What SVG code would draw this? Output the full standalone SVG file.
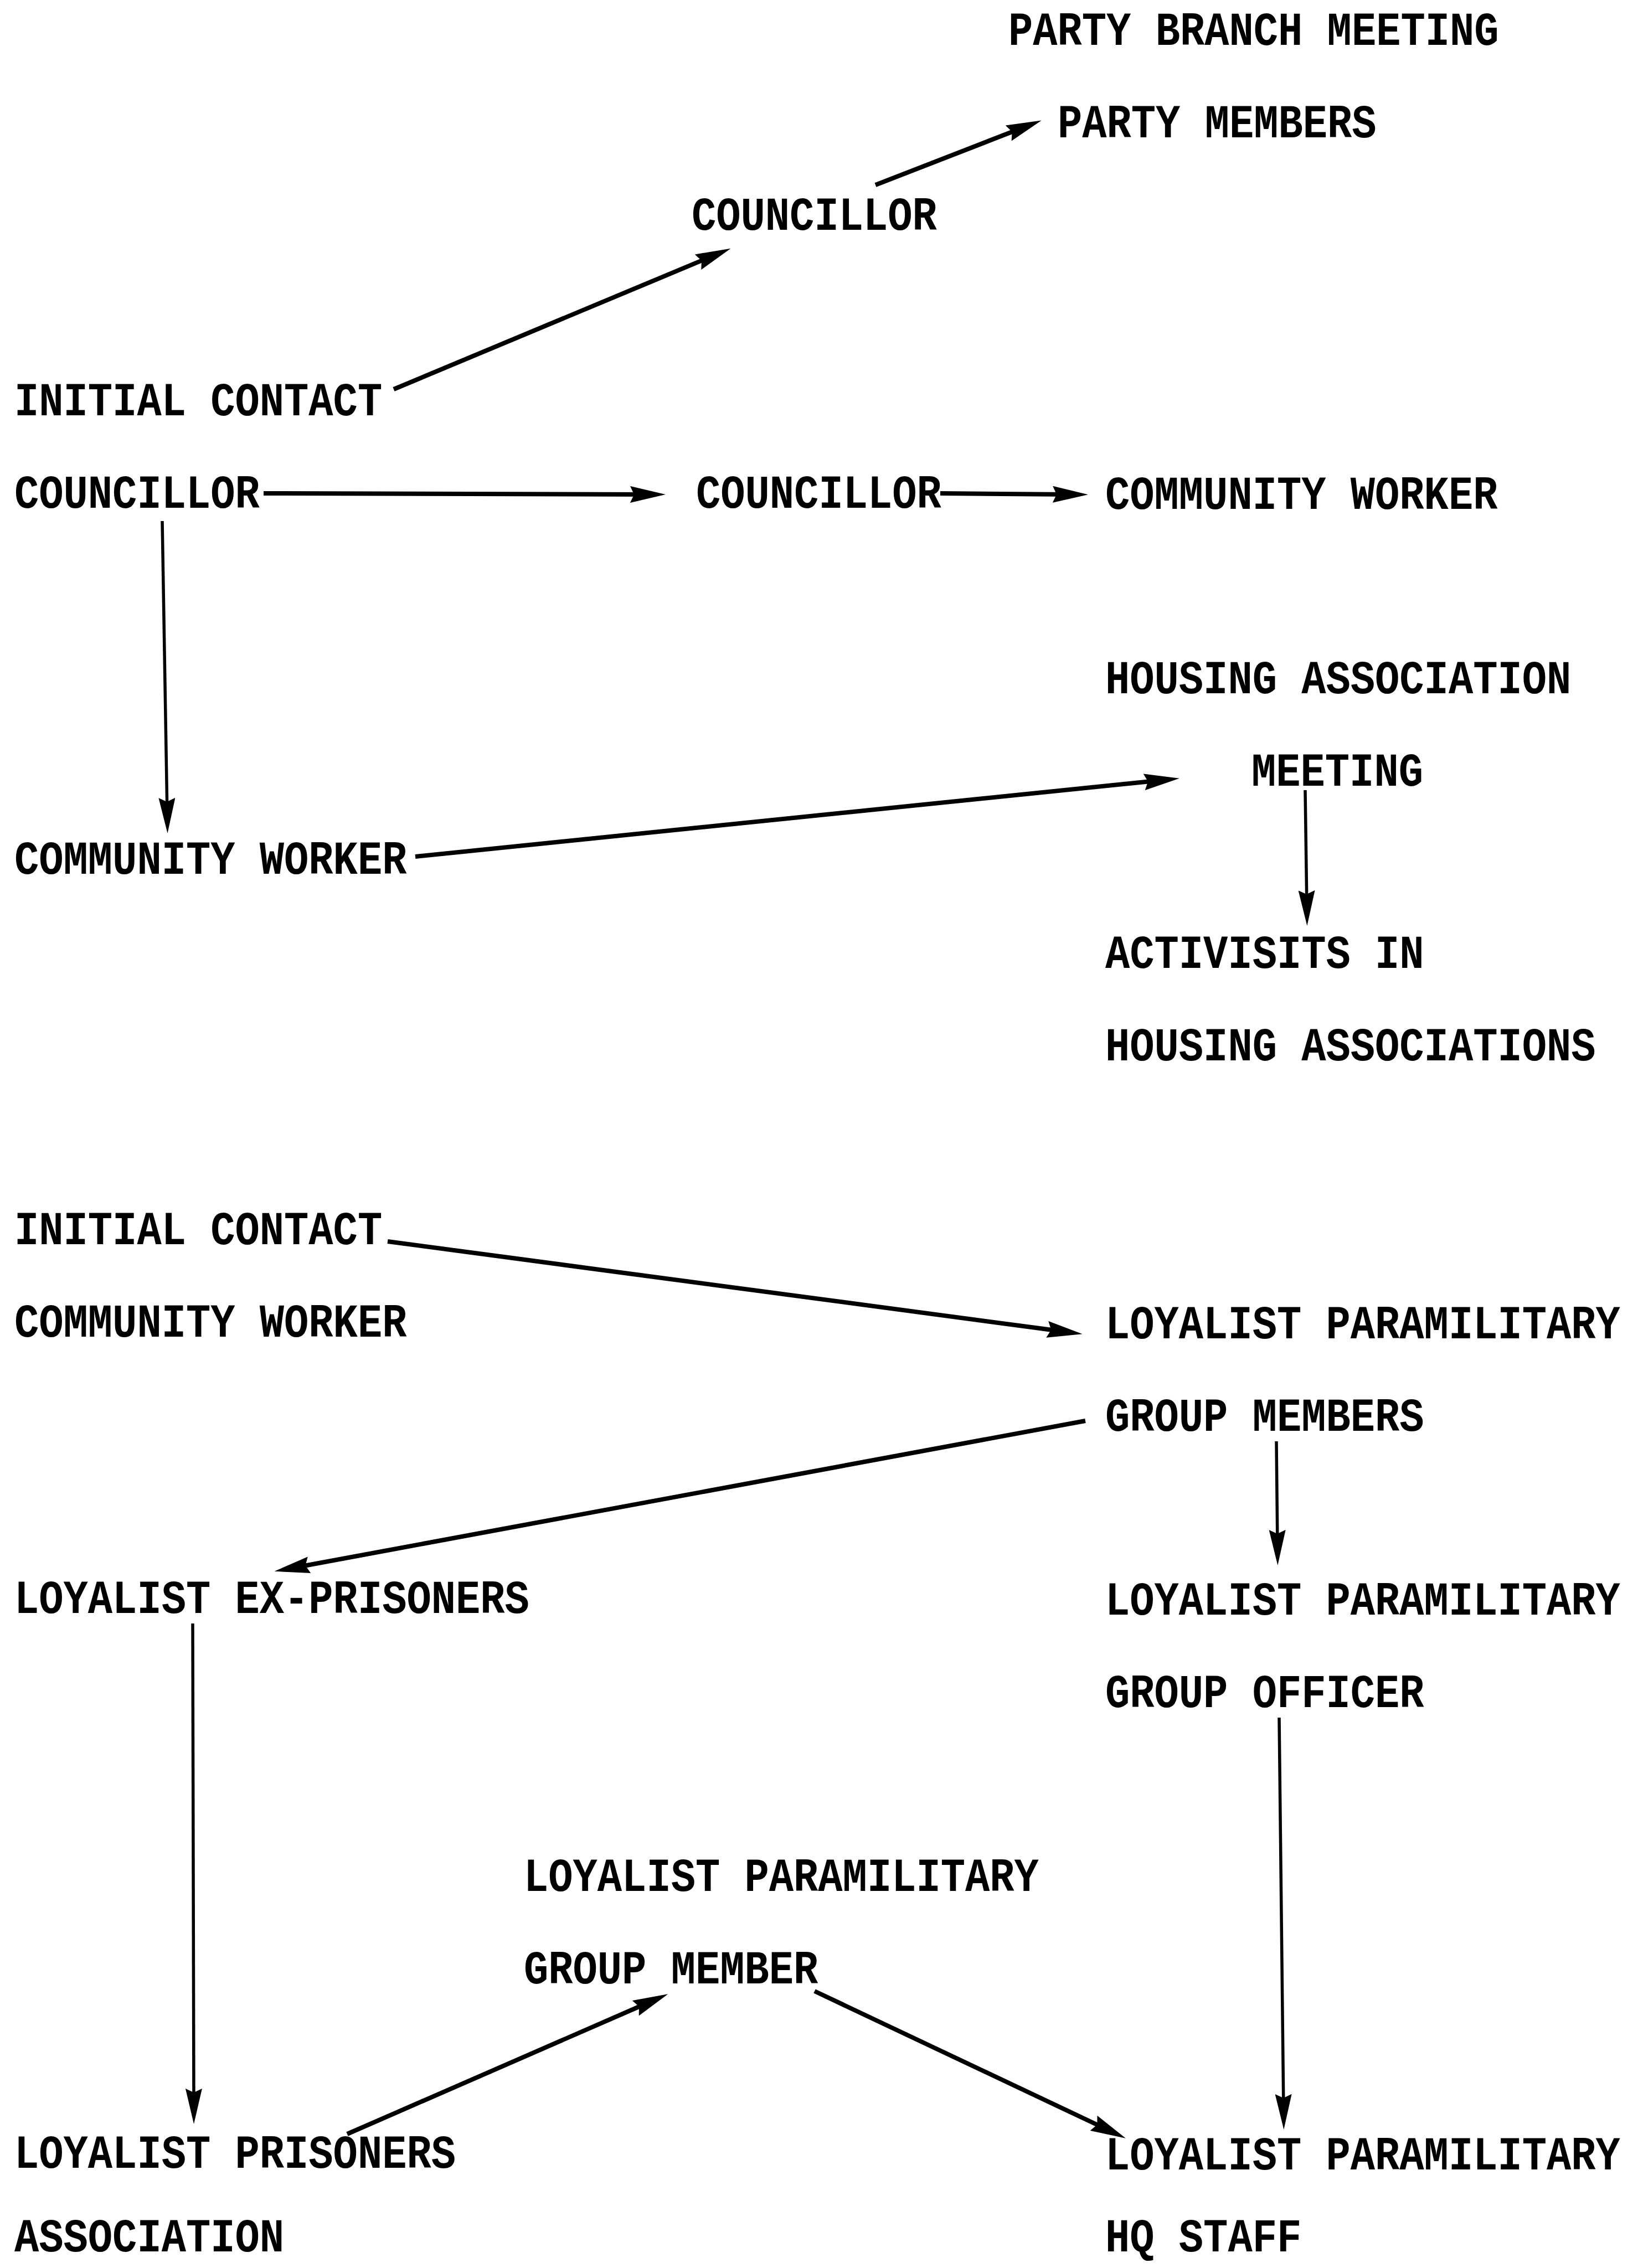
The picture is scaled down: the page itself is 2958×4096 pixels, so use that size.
<svg xmlns="http://www.w3.org/2000/svg" width="2958" height="4096" viewBox="0 0 2958 4096">
<style>
text{font-family:"Liberation Mono","DejaVu Sans Mono",monospace;font-weight:bold;font-size:73.8px;fill:#000;}
.c{stroke:#000;stroke-width:8;fill:none;marker-end:url(#ah);}
.v{stroke-width:5.5;}
</style>
<defs>
<marker id="ah" markerUnits="userSpaceOnUse" viewBox="0 0 64 30" markerWidth="64" markerHeight="30" refX="32" refY="15" orient="auto">
<path d="M0,0 L64,15 L0,30 L7,15 z" fill="#000"/>
</marker>
</defs>
<rect width="2958" height="4096" fill="#fff"/>
<g id="connectors">
<line class="c" x1="711" y1="703" x2="1290" y2="461"/>
<line class="c" x1="1581" y1="334" x2="1851" y2="229"/>
<line class="c" x1="476" y1="891" x2="1170" y2="893"/>
<line class="c" x1="1698" y1="891" x2="1933" y2="893"/>
<line class="c v" x1="293" y1="941" x2="302" y2="1473"/>
<line class="c" x1="750" y1="1547" x2="2098" y2="1409"/>
<line class="c v" x1="2357" y1="1427" x2="2360" y2="1640"/>
<line class="c" x1="700" y1="2242" x2="1923" y2="2405"/>
<line class="c" x1="1960" y1="2566" x2="527" y2="2832"/>
<line class="c v" x1="2305" y1="2603" x2="2307" y2="2795"/>
<line class="c v" x1="348" y1="2932" x2="350" y2="3804"/>
<line class="c v" x1="2310" y1="3102" x2="2318" y2="3814"/>
<line class="c" x1="627" y1="3854" x2="1177" y2="3614"/>
<line class="c" x1="1471" y1="3596" x2="2004" y2="3848"/>
</g>
<g id="party-branch-meeting"><text transform="translate(1821,81) scale(1,1.16)">PARTY BRANCH MEETING</text></g>
<g id="party-members"><text transform="translate(1910,248) scale(1,1.16)">PARTY MEMBERS</text></g>
<g id="councillor-top"><text transform="translate(1249,415) scale(1,1.16)">COUNCILLOR</text></g>
<g id="initial-contact-1"><text transform="translate(26,750) scale(1,1.16)">INITIAL CONTACT</text></g>
<g id="councillor-left"><text transform="translate(26,917) scale(1,1.16)">COUNCILLOR</text></g>
<g id="councillor-mid"><text transform="translate(1257,917) scale(1,1.16)">COUNCILLOR</text></g>
<g id="community-worker-right"><text transform="translate(1996,919) scale(1,1.16)">COMMUNITY WORKER</text></g>
<g id="housing-association-meeting"><text transform="translate(1996,1252) scale(1,1.16)">HOUSING ASSOCIATION</text><text transform="translate(2260,1419) scale(1,1.16)">MEETING</text></g>
<g id="community-worker-left"><text transform="translate(26,1578) scale(1,1.16)">COMMUNITY WORKER</text></g>
<g id="activists"><text transform="translate(1996,1748) scale(1,1.16)">ACTIVISITS IN</text><text transform="translate(1996,1915) scale(1,1.16)">HOUSING ASSOCIATIONS</text></g>
<g id="initial-contact-2"><text transform="translate(26,2247) scale(1,1.16)">INITIAL CONTACT</text><text transform="translate(26,2414) scale(1,1.16)">COMMUNITY WORKER</text></g>
<g id="lpg-members"><text transform="translate(1996,2417) scale(1,1.16)">LOYALIST PARAMILITARY</text><text transform="translate(1996,2584) scale(1,1.16)">GROUP MEMBERS</text></g>
<g id="ex-prisoners"><text transform="translate(26,2913) scale(1,1.16)">LOYALIST EX-PRISONERS</text></g>
<g id="lpg-officer"><text transform="translate(1996,2916) scale(1,1.16)">LOYALIST PARAMILITARY</text><text transform="translate(1996,3083) scale(1,1.16)">GROUP OFFICER</text></g>
<g id="lpg-member"><text transform="translate(946,3415) scale(1,1.16)">LOYALIST PARAMILITARY</text><text transform="translate(946,3582) scale(1,1.16)">GROUP MEMBER</text></g>
<g id="prisoners-association"><text transform="translate(26,3915) scale(1,1.16)">LOYALIST PRISONERS</text><text transform="translate(26,4066) scale(1,1.16)">ASSOCIATION</text></g>
<g id="lp-hq-staff"><text transform="translate(1996,3918) scale(1,1.16)">LOYALIST PARAMILITARY</text><text transform="translate(1996,4066) scale(1,1.16)">HQ STAFF</text></g>
</svg>
